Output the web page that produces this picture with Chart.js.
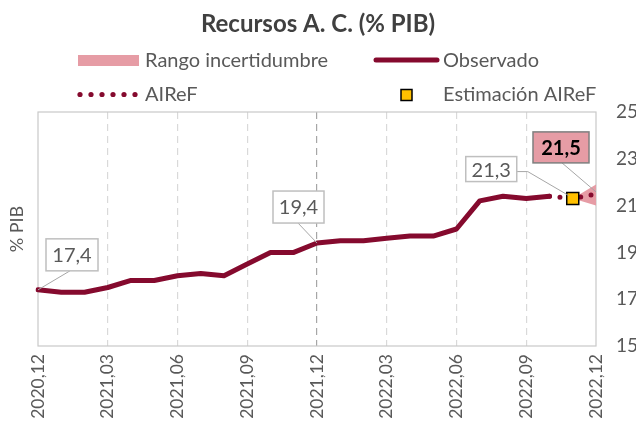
<!DOCTYPE html>
<html lang="es">
<head>
<meta charset="UTF-8">
<title>Recursos A. C. (% PIB)</title>
<script src="https://cdn.jsdelivr.net/npm/chart.js@4.4.1/dist/chart.umd.min.js"></script>
<style>
    html, body { margin: 0; padding: 0; background: #fff; }
    #wrap { width: 636px; height: 433px; position: relative; }
</style>
</head>
<body>
<div id="wrap"><canvas id="grafico"></canvas></div>
<script>
// ===== DATOS =====
const meses = ['2020,12', '2021,01', '2021,02', '2021,03', '2021,04', '2021,05', '2021,06',
    '2021,07', '2021,08', '2021,09', '2021,10', '2021,11', '2021,12', '2022,01', '2022,02',
    '2022,03', '2022,04', '2022,05', '2022,06', '2022,07', '2022,08', '2022,09', '2022,10',
    '2022,11', '2022,12'];

const observado = [17.4, 17.3, 17.3, 17.5, 17.8, 17.8, 18.0, 18.1, 18.0, 18.5, 19.0, 19.0,
    19.4, 19.5, 19.5, 19.6, 19.7, 19.7, 20.0, 21.2, 21.4, 21.3, 21.4, null, null];

const airef = [null, null, null, null, null, null, null, null, null, null, null, null,
    null, null, null, null, null, null, null, null, null, null, 21.4, 21.3, 21.5];

const estimacion = [null, null, null, null, null, null, null, null, null, null, null, null,
    null, null, null, null, null, null, null, null, null, null, null, 21.3, null];

const rangoSup = [null, null, null, null, null, null, null, null, null, null, null, null,
    null, null, null, null, null, null, null, null, null, null, null, 21.3, 21.9];

const rangoInf = [null, null, null, null, null, null, null, null, null, null, null, null,
    null, null, null, null, null, null, null, null, null, null, null, 21.3, 21.0];

const ticksY = [15, 17, 19, 21, 23, 25];

// ===== COLORES =====
const GRANATE = '#850A2E';
const ROSA = '#E69CA5';
const AMARILLO = '#FFC000';
const GRIS = '#595959';
const FUENTE = 'Lato';

// ===== LEYENDA (dibujada a mano) =====
const leyendaPlugin = {
    id: 'leyenda',
    afterDraw(chart) {
        const ctx = chart.ctx;
        ctx.save();
        ctx.font = `20px ${FUENTE}`;
        ctx.textBaseline = 'middle';

        ctx.fillStyle = ROSA;
        ctx.fillRect(78, 55, 61, 11);

        ctx.strokeStyle = GRANATE;
        ctx.lineWidth = 5;
        ctx.lineCap = 'round';
        ctx.beginPath();
        ctx.moveTo(376, 60);
        ctx.lineTo(437, 60);
        ctx.stroke();

        ctx.fillStyle = GRANATE;
        for (let k = 0; k < 6; k++) {
            ctx.beginPath();
            ctx.arc(80 + k * 11, 94.5, 2.6, 0, Math.PI * 2);
            ctx.fill();
        }

        ctx.fillStyle = AMARILLO;
        ctx.strokeStyle = '#000';
        ctx.lineWidth = 1.5;
        ctx.fillRect(401, 89.5, 11, 11);
        ctx.strokeRect(401, 89.5, 11, 11);

        ctx.fillStyle = GRIS;
        ctx.fillText('Rango incertidumbre', 145, 61);
        ctx.fillText('Observado', 443, 61);
        ctx.fillText('AIReF', 145, 95);
        ctx.fillText('Estimación AIReF', 443, 95);
        ctx.restore();
    }
};

// ===== MARCO DEL ÁREA =====
const marcoPlugin = {
    id: 'marco',
    beforeDatasetsDraw(chart) {
        const a = chart.chartArea;
        const ctx = chart.ctx;
        ctx.save();
        ctx.strokeStyle = '#C9C9C9';
        ctx.lineWidth = 1.2;
        ctx.strokeRect(a.left, a.top, a.right - a.left, a.bottom - a.top);
        ctx.restore();
    }
};

// ===== ETIQUETAS DE VALOR =====
// ds: dataset, i: índice, caja: [dx, dy, ancho, alto], linea: puntos relativos al punto
const rotulos = [
    { ds: 1, i: 0, caja: [8, -51, 52, 32], linea: [[32, -19], [0, 0]], resaltado: false },
    { ds: 1, i: 12, caja: [-44, -52, 51, 32], linea: [[-19, -20], [0, 0]], resaltado: false },
    { ds: 0, i: 23, caja: [-107, -42, 51, 25], linea: [[-56, -27], [-45, -27], [-4, -3]], resaltado: false },
    { ds: 2, i: 24, caja: [-63, -62, 56, 31], linea: [[-34, -31], [0, -2]], resaltado: true }
];

const rotulosPlugin = {
    id: 'rotulos',
    afterDatasetsDraw(chart) {
        const ctx = chart.ctx;
        ctx.save();
        rotulos.forEach(r => {
            const pt = chart.getDatasetMeta(r.ds).data[r.i];
            const valor = chart.data.datasets[r.ds].data[r.i];
            const x = pt.x, y = pt.y;

            ctx.strokeStyle = '#A6A6A6';
            ctx.lineWidth = 1;
            ctx.beginPath();
            r.linea.forEach((p, k) => {
                if (k === 0) ctx.moveTo(x + p[0], y + p[1]);
                else ctx.lineTo(x + p[0], y + p[1]);
            });
            ctx.stroke();

            const [dx, dy, w, h] = r.caja;
            ctx.fillStyle = r.resaltado ? ROSA : '#fff';
            ctx.fillRect(x + dx, y + dy, w, h);
            ctx.strokeStyle = r.resaltado ? '#7F7F7F' : '#BFBFBF';
            ctx.lineWidth = 1.5;
            ctx.strokeRect(x + dx, y + dy, w, h);

            ctx.fillStyle = r.resaltado ? '#000' : GRIS;
            ctx.font = `${r.resaltado ? 'bold ' : ''}20px ${FUENTE}`;
            ctx.textAlign = 'center';
            ctx.textBaseline = 'middle';
            ctx.fillText(valor.toFixed(1).replace('.', ','), x + dx + w / 2, y + dy + h / 2 + 1);
        });
        ctx.restore();
    }
};

// ===== GRÁFICO =====
new Chart(document.getElementById('grafico'), {
    type: 'line',
    data: {
        labels: meses,
        datasets: [
            {
                label: 'Estimación AIReF',
                data: estimacion,
                showLine: false,
                pointStyle: 'rect',
                pointRadius: 8.5,
                pointBackgroundColor: AMARILLO,
                pointBorderColor: '#000',
                pointBorderWidth: 1.5,
                order: 0
            },
            {
                label: 'Observado',
                data: observado,
                borderColor: GRANATE,
                borderWidth: 5,
                borderJoinStyle: 'round',
                borderCapStyle: 'round',
                pointRadius: 0,
                tension: 0,
                order: 2
            },
            {
                label: 'AIReF',
                data: airef,
                borderColor: GRANATE,
                borderWidth: 5,
                borderDash: [0, 10.5],
                borderCapStyle: 'round',
                pointRadius: 0,
                tension: 0,
                order: 1
            },
            {
                label: 'Rango incertidumbre',
                data: rangoSup,
                borderWidth: 0,
                borderColor: ROSA,
                backgroundColor: ROSA,
                pointRadius: 0,
                fill: '+1',
                order: 3
            },
            {
                label: 'Rango inferior',
                data: rangoInf,
                borderWidth: 0,
                borderColor: ROSA,
                pointRadius: 0,
                fill: false,
                order: 4
            }
        ]
    },
    options: {
        responsive: true,
        maintainAspectRatio: false,
        animation: false,
        layout: { padding: 0 },
        plugins: {
            legend: { display: false },
            tooltip: { enabled: false },
            title: {
                display: true,
                text: 'Recursos A. C. (% PIB)',
                color: '#404040',
                font: { family: FUENTE, size: 24, weight: 'bold' },
                padding: { top: 10, bottom: 73.2 }
            }
        },
        scales: {
            x: {
                ticks: {
                    autoSkip: false,
                    minRotation: 90,
                    maxRotation: 90,
                    padding: 8,
                    color: GRIS,
                    font: { family: FUENTE, size: 17.5 },
                    callback: (v, i) => (i % 3 === 0 ? meses[i] : '')
                },
                grid: {
                    drawTicks: false,
                    lineWidth: 1.2,
                    color: ctx => {
                        const i = ctx.index;
                        if (i === 0 || i === meses.length - 1 || i % 3 !== 0) return 'rgba(0,0,0,0)';
                        return i === 12 ? '#A6A6A6' : '#D9D9D9';
                    }
                },
                border: { display: false, dash: [7, 5] },
                afterFit: s => { s.height = 87; }
            },
            y: {
                position: 'right',
                min: 15,
                max: 25,
                afterBuildTicks: s => { s.ticks = ticksY.map(v => ({ value: v })); },
                ticks: {
                    padding: 12,
                    color: GRIS,
                    font: { family: FUENTE, size: 19 }
                },
                grid: { display: false },
                border: { display: false },
                afterFit: s => { s.width = 40; }
            },
            yl: {
                position: 'left',
                ticks: { display: false },
                grid: { display: false },
                border: { display: false },
                title: {
                    display: true,
                    text: '% PIB',
                    color: GRIS,
                    font: { family: FUENTE, size: 18 },
                    padding: { top: 6, bottom: 0 }
                },
                afterFit: s => { s.width = 38; }
            }
        }
    },
    plugins: [marcoPlugin, rotulosPlugin, leyendaPlugin]
});
</script>
</body>
</html>
